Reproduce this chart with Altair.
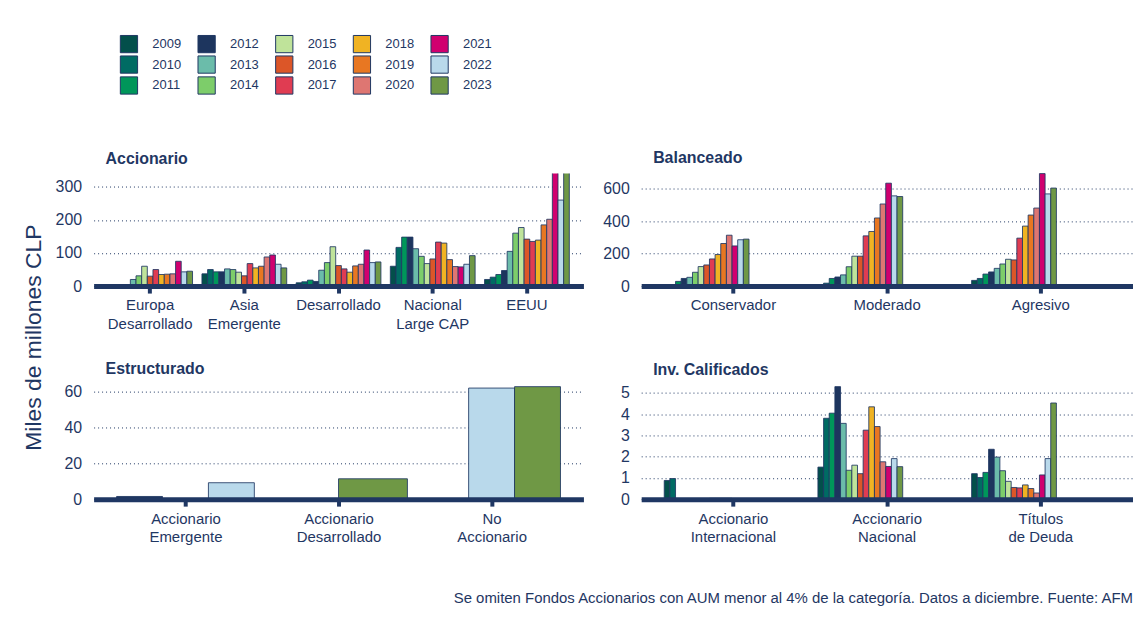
import json
import altair as alt
import pandas as pd

NAVY = "#1f3763"
FONT = "Liberation Sans"

years = [str(y) for y in range(2009, 2024)]
year_colors = ["#034f4b", "#006b63", "#00965a", "#1d355e", "#6bbcaa", "#7dcd6a", "#bfe39a",
               "#dc5628", "#e03c52", "#f0b323", "#e87722", "#de7672", "#d0006f", "#b9d9eb", "#6f9845"]

# ---------------- Accionario ----------------
acc_groups = ["Europa|Desarrollado", "Asia|Emergente", "Desarrollado", "Nacional|Large CAP", "EEUU"]
acc_europa = [2, 3, 3, 4, 20, 31, 60, 30, 50, 35, 36, 37, 75, 43, 45]
acc_asia = [37, 50, 43, 43, 52, 50, 42, 31, 68, 55, 60, 88, 94, 66, 55]
acc_desarrollado = [10, 13, 18, 14, 48, 71, 119, 62, 52, 42, 61, 66, 109, 71, 73]
acc_nacional = [60, 117, 148, 148, 113, 90, 68, 82, 133, 130, 80, 59, 58, 66, 92]
acc_eeuu = [20, 27, 35, 47, 105, 160, 177, 142, 135, 139, 185, 202, 360, 260, 350]
acc_ticks = [0, 100, 200, 300]

# ---------------- Balanceado ----------------
bal_groups = ["Conservador", "Moderado", "Agresivo"]
bal_conservador = [1, 2, 29, 47, 54, 85, 120, 130, 167, 194, 262, 313, 247, 285, 289]
bal_moderado = [5, 18, 47, 56, 69, 119, 184, 184, 309, 336, 419, 505, 633, 555, 551]
bal_agresivo = [35, 47, 74, 87, 109, 136, 165, 161, 295, 369, 437, 480, 692, 567, 603]
bal_ticks = [0, 200, 400, 600]

# ---------------- Estructurado ----------------
est_groups = ["Accionario|Emergente", "Accionario|Desarrollado", "No|Accionario"]
est_grupo = [0, 0, 1, 2, 2]
est_anio = ["2012", "2022", "2023", "2022", "2023"]
est_valor = [1.5, 9.2, 11.4, 62.2, 63.0]
est_posicion = [0, 2, 1, 1, 2]
est_nbarras = [3, 3, 2, 3, 3]
est_ticks = [0, 20, 40, 60]

# ---------------- Inv. Calificados ----------------
inv_groups = ["Accionario|Internacional", "Accionario|Nacional", "Títulos|de Deuda"]
inv_internacional = [0.88, 0.97, 0.03, 0, 0, 0, 0, 0, 0.04, 0.04, 0.04, 0.04, 0, 0, 0]
inv_nacional = [1.51, 3.81, 4.05, 5.3, 3.57, 1.36, 1.60, 1.20, 3.25, 4.35, 3.42, 1.76, 1.54, 1.91, 1.53]
inv_deuda = [1.20, 1.02, 1.26, 2.35, 1.98, 1.34, 0.84, 0.55, 0.53, 0.67, 0.50, 0.29, 1.14, 1.91, 4.53]
inv_ticks = [0, 1, 2, 3, 4, 5]

footnote = "Se omiten Fondos Accionarios con AUM menor al 4% de la categoría. Datos a diciembre. Fuente: AFM"
y_title = "Miles de millones CLP"


def long_df(groups, series):
    rows = []
    for g, vals in zip(groups, series):
        for y, v in zip(years, vals):
            rows.append({"grupo": g, "anio": y, "valor": v})
    return pd.DataFrame(rows)


color_scale = alt.Scale(domain=years, range=year_colors)
color_legend = alt.Legend(title=None, orient="none", legendX=26, legendY=-140, columns=5,
                          symbolType="square", symbolSize=300, symbolStrokeColor=NAVY,
                          symbolStrokeWidth=1, symbolOpacity=1, labelFontSize=13,
                          labelColor=NAVY, labelFont=FONT, labelOffset=14, columnPadding=14,
                          rowPadding=-6)

PLOT_H = 113


def x_axis_props():
    return dict(title=None, labelExpr="split(datum.label, '|')", labelAngle=0,
                labelFontSize=15, labelColor=NAVY, labelFont=FONT, labelLineHeight=19,
                labelPadding=5, domainColor=NAVY, domainWidth=5, tickColor=NAVY,
                tickWidth=4, tickSize=7, grid=False, zindex=1, labelBaseline="top")


def y_axis(ticks):
    return alt.Axis(title=None, values=ticks, ticks=False, domain=False, labelFontSize=16,
                    labelColor=NAVY, labelFont=FONT, labelPadding=12, grid=True,
                    gridColor=NAVY, gridDash=[1, 3], gridWidth=1, minExtent=40, maxExtent=40,
                    zindex=0)


def panel_title(text):
    return alt.TitleParams(text, anchor="start", frame="group", dx=12, dy=16, fontSize=16,
                           fontWeight="bold", color=NAVY, font=FONT, offset=10,
                           baseline="alphabetic")


def band_panel(df, groups, title, ymax, ticks, width, clip=False):
    return alt.Chart(df).mark_bar(stroke=NAVY, strokeWidth=1, strokeOpacity=0.85,
                                  clip=clip).encode(
        x=alt.X("grupo:N", sort=groups,
                scale=alt.Scale(paddingInner=0.1, paddingOuter=0.15),
                axis=alt.Axis(**x_axis_props())),
        xOffset=alt.XOffset("anio:N", sort=years,
                            scale=alt.Scale(paddingInner=0, paddingOuter=0)),
        y=alt.Y("valor:Q", scale=alt.Scale(domain=[0, ymax], nice=False), axis=y_axis(ticks)),
        color=alt.Color("anio:N", scale=color_scale, legend=color_legend),
    ).properties(width=width, height=PLOT_H, title=panel_title(title))


acc_df = long_df(acc_groups, [acc_europa, acc_asia, acc_desarrollado, acc_nacional, acc_eeuu])
bal_df = long_df(bal_groups, [bal_conservador, bal_moderado, bal_agresivo])
inv_df = long_df(inv_groups, [inv_internacional, inv_nacional, inv_deuda])

acc = band_panel(acc_df, acc_groups, "Accionario", 340, acc_ticks, 492, clip=True)
bal = band_panel(bal_df, bal_groups, "Balanceado", 692, bal_ticks, 494)
inv = band_panel(inv_df, inv_groups, "Inv. Calificados", 5.3, inv_ticks, 494)

# Estructurado: dodge with a variable number of bars per group
est_df = pd.DataFrame({"grupo": est_grupo, "anio": est_anio, "valor": est_valor,
                       "pos": est_posicion, "n": est_nbarras})
est_label_expr = "split(" + json.dumps(est_groups) + "[datum.value], '|')"
est_axis = x_axis_props()
est_axis["labelExpr"] = est_label_expr
est_axis["values"] = list(range(len(est_groups)))
est = alt.Chart(est_df).transform_calculate(
    x0="datum.grupo - 0.45 + datum.pos * 0.9 / datum.n",
    x1="datum.grupo - 0.45 + (datum.pos + 1) * 0.9 / datum.n",
).mark_bar(stroke=NAVY, strokeWidth=1, strokeOpacity=0.85).encode(
    x=alt.X("x0:Q", scale=alt.Scale(domain=[-0.6, len(est_groups) - 0.4], nice=False, zero=False),
            axis=alt.Axis(**est_axis)),
    x2="x1:Q",
    y=alt.Y("valor:Q", scale=alt.Scale(domain=[0, 63], nice=False), axis=y_axis(est_ticks)),
    y2=alt.datum(0),
    color=alt.Color("anio:N", scale=color_scale, legend=color_legend),
).properties(width=492, height=PLOT_H, title=panel_title("Estructurado"))

row1 = alt.hconcat(acc, bal, spacing=18)
row2 = alt.hconcat(est, inv, spacing=18)
grid = alt.vconcat(row1, row2, spacing=29).properties(
    title=alt.TitleParams(y_title, orient="left", anchor="middle", fontSize=23,
                          fontWeight="normal", color=NAVY, font=FONT, offset=8, dx=10))

chart = alt.vconcat(grid).properties(
    title=alt.TitleParams(footnote, orient="bottom", anchor="end", fontSize=15,
                          fontWeight="normal", color=NAVY, font=FONT, offset=46,
                          baseline="top"),
    padding={"left": 14, "top": 25, "right": 0, "bottom": 0},
).configure(background="white", view=alt.ViewConfig(stroke=None))

chart.save("out.html", embed_options={"renderer": "svg", "actions": False})
